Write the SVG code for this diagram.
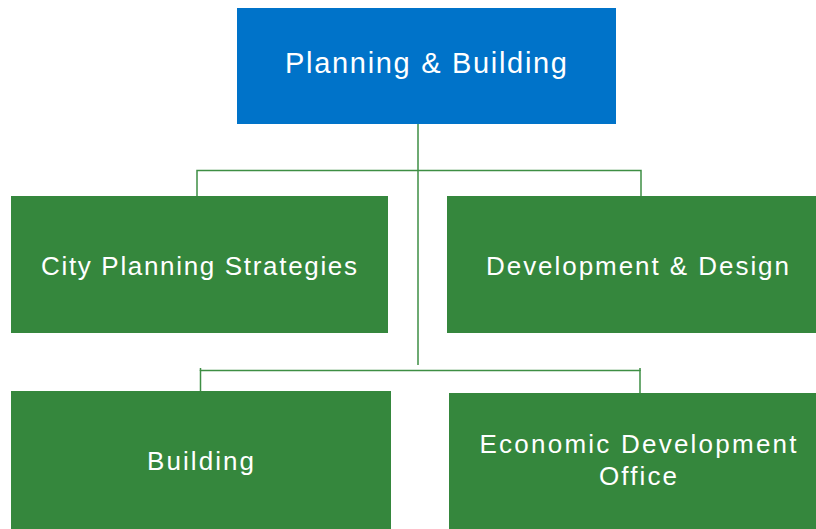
<svg xmlns="http://www.w3.org/2000/svg" width="816" height="529" viewBox="0 0 816 529">
<style>
.g{fill:#35873D}
.t{fill:#fff;font-family:"Liberation Sans",Arial,sans-serif;font-size:26px;text-anchor:middle}
.c{stroke:#3E8E44;stroke-width:1.5;fill:none}
</style>
<rect width="816" height="529" fill="#fff"/>
<g id="connectors" class="c">
<line x1="418" y1="120" x2="418" y2="365"/>
<polyline points="197,196 197,170.5 641,170.5 641,196"/>
<polyline points="200.5,391 200.5,370.5 640,370.5 640,393"/>
<line x1="200.5" y1="368" x2="200.5" y2="371"/>
<line x1="640" y1="368" x2="640" y2="371"/>
</g>
<g id="planning-building">
<rect x="237" y="8" width="379" height="116" fill="#0073C9"/>
<text class="t" x="426" y="73" style="font-size:29px" textLength="282" lengthAdjust="spacing">Planning &amp; Building</text>
</g>
<g id="city-planning-strategies">
<rect class="g" x="11" y="196" width="377" height="137"/>
<text class="t" x="199" y="275" textLength="316" lengthAdjust="spacing">City Planning Strategies</text>
</g>
<g id="development-design">
<rect class="g" x="447" y="196" width="369" height="137"/>
<text class="t" x="637.5" y="275" textLength="303" lengthAdjust="spacing">Development &amp; Design</text>
</g>
<g id="building">
<rect class="g" x="11" y="391" width="380" height="138"/>
<text class="t" x="200.5" y="470" textLength="107" lengthAdjust="spacing">Building</text>
</g>
<g id="economic-development-office">
<rect class="g" x="449" y="393" width="367" height="136"/>
<text class="t" x="638" y="453" textLength="317" lengthAdjust="spacing">Economic Development</text>
<text class="t" x="638" y="485" textLength="78" lengthAdjust="spacing">Office</text>
</g>
</svg>
